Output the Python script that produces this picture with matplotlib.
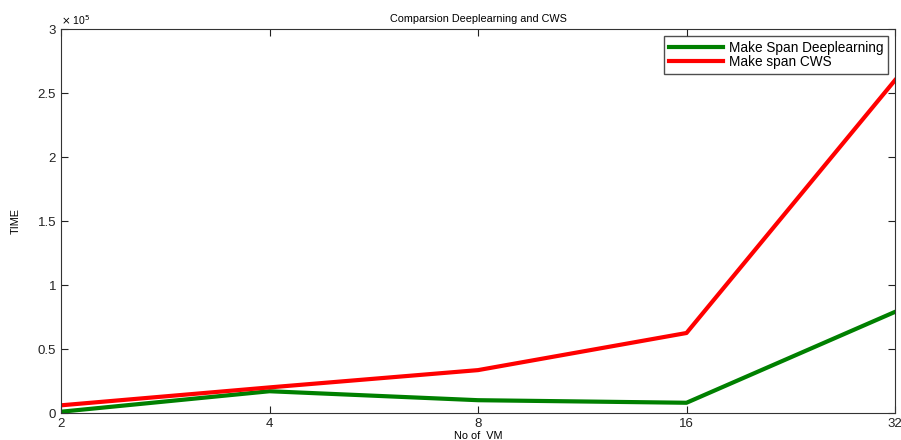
import numpy as np
import matplotlib
matplotlib.use("Agg")
import matplotlib.pyplot as plt
from matplotlib.ticker import FuncFormatter, FixedLocator

# data
vms = [2, 4, 8, 16, 32]
makespan_dl = [1000, 17000, 10000, 8000, 79000]
makespan_cws = [6000, 20000, 33500, 62500, 260000]

plt.rcParams["font.family"] = ["Liberation Sans", "DejaVu Sans"]
plt.rcParams["font.size"] = 7.5

fig = plt.figure(figsize=(9.01, 4.40), dpi=100)
ax = fig.add_axes([61 / 901, 27 / 440, 834 / 901, 384 / 440])

ax.plot(vms, makespan_dl, color="#008000", lw=3, label="Make Span Deeplearning")
ax.plot(vms, makespan_cws, color="#ff0000", lw=3, label="Make span CWS")

ax.set_xscale("log", base=2)
ax.set_xlim(2, 32)
ax.xaxis.set_major_locator(FixedLocator(vms))
ax.xaxis.set_major_formatter(FuncFormatter(lambda v, p: f"{v:g}"))
ax.xaxis.set_minor_locator(FixedLocator([]))

ax.set_ylim(0, 3e5)
ax.yaxis.set_major_locator(FixedLocator(np.arange(0, 3.01e5, 0.5e5)))
ax.yaxis.set_major_formatter(FuncFormatter(lambda v, p: f"{v / 1e5:g}"))
ax.text(0.0, 1.005, r"$\times$ 10$^5$", transform=ax.transAxes,
        ha="left", va="bottom", fontsize=7.5)

ax.tick_params(direction="in", top=True, right=True, length=5, width=0.8,
               labelsize=9.5, colors="#222222")
for s in ax.spines.values():
    s.set_color("#333333")
    s.set_linewidth(0.8)

ax.set_title("Comparsion Deeplearning and CWS", fontsize=7.8, pad=5)
ax.set_xlabel("No of  VM", fontsize=7.8, labelpad=1)
ax.set_ylabel("TIME", fontsize=7.8, labelpad=12)

ax.legend(loc="upper right", fontsize=9.8, frameon=True, fancybox=False,
          edgecolor="#222222", borderpad=0.35, labelspacing=0.05,
          handlelength=4.0, handletextpad=0.4, borderaxespad=0.5)

fig.savefig("out.png", dpi=100)
